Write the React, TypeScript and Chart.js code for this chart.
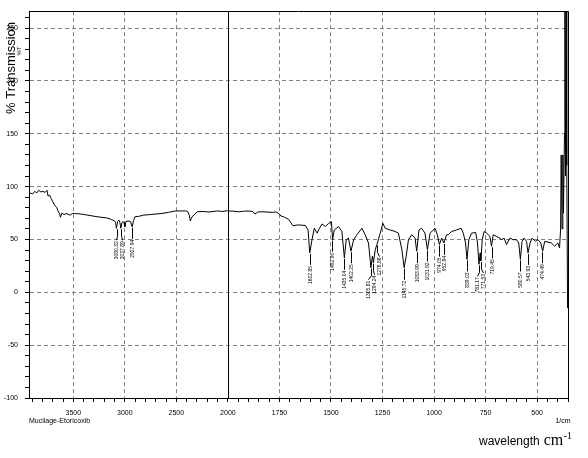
import React, { useEffect, useRef } from 'react';
import { Chart, registerables } from 'chart.js';
Chart.register(...registerables);

// ---- data (wavenumber in 1/cm, % transmission) ----
const wavenumbers = [
  3930, 3915, 3895, 3875, 3855, 3835, 3815, 3795, 3775, 3755,
  3745, 3730, 3715, 3700, 3682, 3660, 3645, 3633, 3625, 3610,
  3590, 3570, 3552, 3530, 3510, 3487, 3420, 3358, 3300, 3231,
  3180, 3131, 3100, 3090, 3082, 3070, 3058, 3048, 3039, 3028,
  3016, 3008, 3000, 2990, 2968, 2945, 2929, 2915, 2902, 2860,
  2822, 2760, 2708, 2650, 2578, 2510, 2440, 2412, 2390, 2375,
  2364, 2355, 2347, 2320, 2298, 2240, 2185, 2100, 2060, 2006,
  2000, 1975, 1947, 1920, 1898, 1880, 1869, 1855, 1834, 1810,
  1785, 1770, 1761, 1750, 1743, 1730, 1720, 1705, 1695, 1684,
  1670, 1656, 1640, 1624, 1611, 1603, 1592, 1581, 1567, 1556,
  1543, 1527, 1511, 1498, 1492, 1484, 1463, 1447, 1435, 1426,
  1415, 1403, 1390, 1374, 1350, 1334, 1318, 1306, 1299, 1294,
  1285, 1277, 1261, 1248, 1237, 1213, 1189, 1173, 1156, 1145,
  1135, 1124, 1108, 1092, 1084, 1073, 1060, 1044, 1032, 1019,
  995, 984, 974, 963, 952, 939, 931, 914, 890, 869,
  858, 847, 840, 831, 818, 798, 789, 782, 776, 773,
  766, 757, 745, 729, 721, 713, 697, 681, 672, 660,
  648, 632, 616, 600, 589, 581, 573, 563, 551, 544,
  534, 524, 508, 495, 482, 473, 463, 447, 431, 415,
  399, 391, 386, 383, 379, 375, 372, 367, 365, 362,
  359, 356, 352,
];
const transmission = [
  92.5, 94, 93, 95.5, 94, 96.5, 95, 95.5, 94.5, 96.5,
  91, 92, 88.6, 86, 82.5, 80, 76, 74.6, 71, 75,
  73.5, 74.5, 74, 73, 74.5, 74.6, 74, 73, 72, 71,
  70.5, 69, 67.5, 66, 60.6, 67, 68.5, 66, 60.6, 66,
  67, 66, 62, 67, 67.5, 67, 62, 68, 71.5, 72,
  73, 73.5, 74, 74.5, 75.6, 77, 77, 77, 76.5, 73,
  67.5, 70, 71.5, 74, 76.2, 76.5, 76, 77, 76.5, 77.2,
  77, 76.8, 76.2, 76.8, 76.9, 76.5, 74, 76, 76.2, 76,
  75.6, 76, 75.6, 74, 72.2, 71.5, 70.5, 69, 66, 62.9,
  63.5, 63.8, 63.5, 63.2, 59, 37.3, 49.8, 60.6, 56, 60.6,
  64.7, 62.2, 65.3, 66.9, 49.8, 59, 62.2, 57.6, 32.7, 49.8,
  51.3, 38.9, 49.8, 54.5, 60.6, 54.5, 46.7, 23.3, 34.2, 28,
  40.5, 45.2, 56, 65.3, 60.6, 59, 57.6, 56, 40.5, 23.3,
  34.2, 49.8, 54.5, 51.3, 38.9, 59, 60.6, 56, 40.5, 56,
  60.6, 54.5, 45.2, 51.3, 46.7, 54.5, 54.5, 57.6, 59, 60.6,
  56, 46.7, 31.1, 49.8, 56, 56.6, 46.7, 26.5, 37.3, 29.6,
  49.8, 57.6, 56, 52.9, 43.6, 54.5, 52.9, 51.3, 49.8, 51.3,
  45.2, 51.3, 49.8, 49.8, 46.7, 31.1, 48.2, 51.3, 48.2, 37.3,
  46.7, 51.3, 48.2, 49.8, 46.7, 38.9, 48.2, 47.5, 46.7, 43.6,
  46.7, 42, 60, 130, 60, 130, 75, 150, 290, 110,
  290, 120, -15,
];
const peakWavenumbers = [
  3080.32, 3037.89, 2927.94, 1602.85, 1492.9, 1435.04, 1402.25, 1305.81,
  1294.24, 1276.88, 1145.72, 1083.99, 1031.92, 974.05, 952.84, 839.03,
  781.17, 771.53, 719.45, 580.57, 543.93, 474.49,
];
const yTitle = '% Transmission';
const yUnitNote = '%T';
const sampleName = 'Mucilage-Etoricoxib';
const xUnitNote = '1/cm';
const xTitleWord = 'wavelength';
const xTitleUnit = 'cm';
const xTitleExp = '-1';

// ---- broken wavenumber axis: 2x compression above 2000 1/cm ----
const BREAK = 2000;
const toAxis = (w: number) => (w >= BREAK ? -(w - BREAK) / 2 : BREAK - w);
const fromAxis = (u: number) => (u <= 0 ? BREAK - 2 * u : BREAK - u);
const WN_LEFT = 3930;
const WN_RIGHT = 350;
const X_MIN = toAxis(WN_LEFT);
const X_MAX = toAxis(WN_RIGHT);
const Y_MIN = -100;
const Y_MAX = 266;

const xTickValues: number[] = [];
for (let u = -950; u <= X_MAX; u += 50) xTickValues.push(u);
const yTickValues: number[] = [];
for (let v = Y_MIN; v <= 260; v += 10) yTickValues.push(v);

const isXMajor = (u: number) => u % 250 === 0 && u >= -750 && u <= 1500;
const isYMajor = (v: number) => v % 50 === 0;

function spread(xs: number[], gap: number): number[] {
  let groups = xs.map((x) => ({ start: x, n: 1, sum: x }));
  let merged = true;
  while (merged) {
    merged = false;
    const out: { start: number; n: number; sum: number }[] = [];
    for (const g of groups) {
      const last = out[out.length - 1];
      if (last && g.start < last.start + (last.n - 1) * gap + gap) {
        last.n += g.n;
        last.sum += g.sum;
        last.start = last.sum / last.n - ((last.n - 1) * gap) / 2;
        merged = true;
        continue;
      }
      out.push({ ...g });
    }
    groups = out;
  }
  const res: number[] = [];
  for (const g of groups) for (let i = 0; i < g.n; i++) res.push(g.start + i * gap);
  return res;
}

export default function App() {
  const ref = useRef<HTMLCanvasElement>(null);
  useEffect(() => {
    const canvas = ref.current!;
    const points = wavenumbers.map((w, i) => ({ x: toAxis(w), y: transmission[i] }));

    const overlay = {
      id: 'overlay',
      beforeDatasetsDraw(chart: any) {
        const { ctx, chartArea } = chart;
        const xs = chart.scales.x;
        ctx.save();
        ctx.strokeStyle = '#000';
        ctx.lineWidth = 1;
        const bx = Math.round(xs.getPixelForValue(0)) + 0.5;
        ctx.beginPath();
        ctx.moveTo(bx, chartArea.top);
        ctx.lineTo(bx, chartArea.bottom);
        ctx.stroke();
        ctx.restore();
      },
      afterDraw(chart: any) {
        const { ctx, chartArea } = chart;
        const xs = chart.scales.x;
        const ys = chart.scales.y;
        ctx.save();
        // frame top/right
        ctx.strokeStyle = '#000';
        ctx.lineWidth = 1;
        ctx.beginPath();
        ctx.moveTo(chartArea.left, Math.round(chartArea.top) + 0.5);
        ctx.lineTo(chartArea.right, Math.round(chartArea.top) + 0.5);
        ctx.moveTo(Math.round(chartArea.right) + 0.5, chartArea.top);
        ctx.lineTo(Math.round(chartArea.right) + 0.5, chartArea.bottom);
        ctx.stroke();

        // peak labels
        const px = peakWavenumbers.map((w) => xs.getPixelForValue(toAxis(w)));
        const lx = spread(px, 5.5);
        ctx.font = '5px "Liberation Sans"';
        ctx.fillStyle = '#000';
        peakWavenumbers.forEach((w, i) => {
          let t = Infinity;
          wavenumbers.forEach((ww, j) => {
            if (Math.abs(ww - w) <= 6 && transmission[j] < t) t = transmission[j];
          });
          if (!isFinite(t)) t = 50;
          const py = ys.getPixelForValue(t);
          ctx.beginPath();
          ctx.moveTo(Math.round(px[i]) + 0.5, py + 1);
          ctx.lineTo(Math.round(px[i]) + 0.5, py + 8);
          ctx.lineTo(Math.round(lx[i]) + 0.5, py + 12);
          ctx.stroke();
          ctx.save();
          ctx.translate(Math.round(lx[i]) + 0.5, py + 13);
          ctx.rotate(-Math.PI / 2);
          ctx.textAlign = 'right';
          ctx.textBaseline = 'middle';
          ctx.fillText(w.toFixed(2), 0, 0);
          ctx.restore();
        });

        // y title
        ctx.save();
        ctx.translate(11, 68);
        ctx.rotate(-Math.PI / 2);
        ctx.font = '13px "Liberation Sans"';
        ctx.textAlign = 'center';
        ctx.textBaseline = 'middle';
        ctx.fillText(yTitle, 0, 0);
        ctx.restore();
        ctx.save();
        ctx.translate(19, 51);
        ctx.rotate(-Math.PI / 2);
        ctx.font = '6px "Liberation Sans"';
        ctx.textAlign = 'center';
        ctx.textBaseline = 'middle';
        ctx.fillText(yUnitNote, 0, 0);
        ctx.restore();

        // bottom texts
        ctx.font = '7px "Liberation Sans"';
        ctx.textBaseline = 'middle';
        ctx.textAlign = 'left';
        ctx.fillText(sampleName, 29, 421);
        ctx.textAlign = 'center';
        ctx.fillText(xUnitNote, 563, 421);

        ctx.textAlign = 'left';
        ctx.textBaseline = 'alphabetic';
        ctx.font = '12px "Liberation Sans"';
        let x = 479;
        ctx.fillText(xTitleWord, x, 445);
        x += ctx.measureText(xTitleWord).width + 4;
        ctx.font = '16px "Liberation Serif"';
        ctx.fillText(xTitleUnit, x, 445);
        x += ctx.measureText(xTitleUnit).width + 0.5;
        ctx.font = '10px "Liberation Serif"';
        ctx.fillText(xTitleExp, x, 439);
        ctx.restore();
      },
    };

    const chart = new Chart(canvas, {
      type: 'line',
      data: {
        datasets: [
          {
            data: points,
            borderColor: '#000',
            borderWidth: 1,
            pointRadius: 0,
            fill: false,
            tension: 0,
          },
        ],
      },
      options: {
        animation: false,
        responsive: false,
        layout: { padding: { left: 0, top: 6, right: 20, bottom: 0 } },
        plugins: { legend: { display: false }, tooltip: { enabled: false } },
        scales: {
          x: {
            type: 'linear',
            min: X_MIN,
            max: X_MAX,
            afterBuildTicks: (s: any) => {
              s.ticks = xTickValues.map((v) => ({ value: v }));
            },
            afterFit: (s: any) => {
              s.height = 60;
            },
            ticks: {
              autoSkip: false,
              maxRotation: 0,
              padding: 7,
              color: '#000',
              font: { family: '"Liberation Sans"', size: 7 },
              callback: (v: any) => (isXMajor(Number(v)) ? String(fromAxis(Number(v))) : ''),
            },
            grid: {
              color: (c: any) => (c.tick && isXMajor(c.tick.value) && c.tick.value !== 0 ? '#808080' : 'rgba(0,0,0,0)'),
              tickColor: '#000',
              tickLength: 4,
              lineWidth: 1,
            },
            border: { color: '#000', width: 1, dash: [4, 3] },
          },
          y: {
            type: 'linear',
            min: Y_MIN,
            max: Y_MAX,
            afterBuildTicks: (s: any) => {
              s.ticks = yTickValues.map((v) => ({ value: v }));
            },
            afterFit: (s: any) => {
              s.width = 29;
            },
            ticks: {
              autoSkip: false,
              padding: 7,
              color: '#000',
              font: { family: '"Liberation Sans"', size: 7 },
              callback: (v: any) => (isYMajor(Number(v)) ? String(v) : ''),
            },
            grid: {
              color: (c: any) => (c.tick && isYMajor(c.tick.value) ? '#808080' : 'rgba(0,0,0,0)'),
              tickColor: '#000',
              tickLength: 4,
              lineWidth: 1,
            },
            border: { color: '#000', width: 1, dash: [4, 3] },
          },
        },
      },
      plugins: [overlay],
    } as any);
    return () => chart.destroy();
  }, []);
  return (
    <div style={{ position: 'absolute', left: 0, top: 0, width: 588, height: 458, background: '#fff' }}>
      <canvas ref={ref} width={588} height={458} style={{ display: 'block' }} />
    </div>
  );
}
